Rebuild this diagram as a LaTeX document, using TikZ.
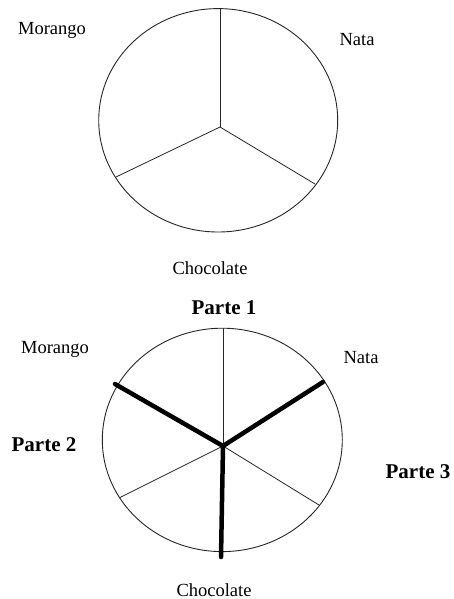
\documentclass[tikz,border=0pt]{standalone}
\usepackage{fontspec}
\setmainfont{Liberation Serif}
\usepackage{tikz}

\tikzset{
  flavour/.style={font=\fontsize{18.5}{22}\selectfont},
  part/.style={font=\fontsize{21}{25}\bfseries\selectfont},
  rim/.style={black!85,line width=0.9pt},
  spoke/.style={black!85,line width=0.8pt},
  cut/.style={black,line width=4.5pt,line cap=round}
}

\begin{document}
\begin{tikzpicture}[x=1pt,y=-1pt]
  \useasboundingbox (0,0) rectangle (454,599);
  \draw[rim] (218.2,120.3) ellipse (119.5 and 111.7);
  \coordinate (c1) at (220,127);
  \coordinate (u1) at (220,9);
  \coordinate (r1) at (315,184);
  \coordinate (l1) at (116,177);
  \draw[spoke] (c1) -- (u1);
  \draw[spoke] (c1) -- (r1);
  \draw[spoke] (c1) -- (l1);
  \node[flavour] (morango1) at (52,30) {Morango};
  \node[flavour] (nata1) at (357,40) {Nata};
  \node[flavour] (choc1) at (210,268) {Chocolate};

  \draw[rim] (222.3,439.9) ellipse (120 and 111.7);
  \coordinate (c2) at (223,446);
  \coordinate (u2) at (223,328);
  \coordinate (r2) at (319,505);
  \coordinate (l2) at (119,498);
  \coordinate (tl2) at (115,384);
  \coordinate (tr2) at (323,382);
  \coordinate (td2) at (221,557);
  \draw[spoke] (c2) -- (u2);
  \draw[spoke] (c2) -- (r2);
  \draw[spoke] (c2) -- (l2);
  \draw[cut] (tl2) -- (c2) -- (tr2);
  \draw[cut] (c2) -- (td2);
  \node[part] (parte1) at (224,308) {Parte 1};
  \node[part] (parte2) at (44,445) {Parte 2};
  \node[part] (parte3) at (418,472) {Parte 3};
  \node[flavour] (morango2) at (55,349) {Morango};
  \node[flavour] (nata2) at (361,358) {Nata};
  \node[flavour] (choc2) at (214,590) {Chocolate};
\end{tikzpicture}
\end{document}
